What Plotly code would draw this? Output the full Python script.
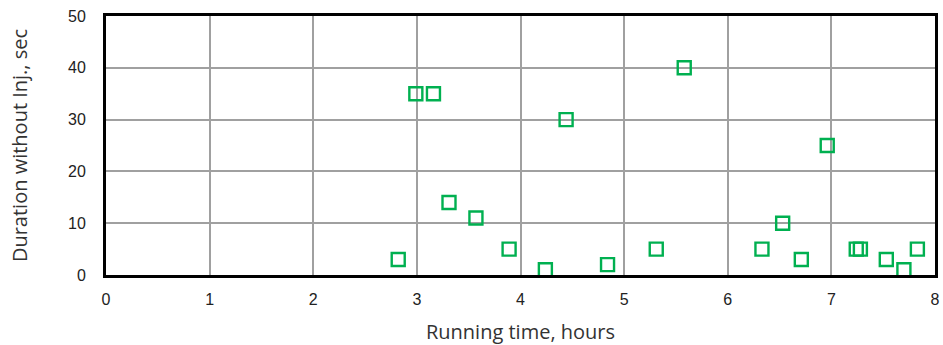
import plotly.graph_objects as go

# Running time (hours) and duration without injection (sec)
running_hours = [2.82, 2.99, 3.16, 3.31, 3.57, 3.89, 4.24, 4.44, 4.84, 5.31,
                 5.58, 6.33, 6.53, 6.71, 6.96, 7.24, 7.28, 7.53, 7.70, 7.83]
duration_sec = [3, 35, 35, 14, 11, 5, 1, 30, 2, 5,
                40, 5, 10, 3, 25, 5, 5, 3, 1, 5]

x_ticks = [0, 1, 2, 3, 4, 5, 6, 7, 8]
y_ticks = [0, 10, 20, 30, 40, 50]

fig = go.Figure(
    go.Scatter(
        x=running_hours,
        y=duration_sec,
        mode="markers",
        cliponaxis=False,
        marker=dict(symbol="square-open", size=13, color="#00b050",
                    line=dict(width=2.4, color="#00b050")),
        showlegend=False,
    )
)

axis_common = dict(
    showline=True, mirror=True, linecolor="black", linewidth=3,
    showgrid=True, gridcolor="#a0a0a0", gridwidth=1.5,
    zeroline=False, ticks="",
    tickfont=dict(family="Liberation Sans, Arial", size=16, color="#222"),
)

title_font = dict(family="Open Sans", size=20, color="#333")

fig.update_layout(
    width=943, height=345,
    margin=dict(l=106, r=3, t=16, b=70),
    paper_bgcolor="white", plot_bgcolor="white",
    xaxis=dict(range=[0, 8], tickvals=x_ticks,
               title=dict(text="Running time, hours", standoff=18, font=title_font),
               ticklabelstandoff=8, **axis_common),
    yaxis=dict(range=[0, 50], tickvals=y_ticks,
               title=dict(text="Duration without Inj., sec", standoff=36, font=title_font),
               ticklabelstandoff=14, **axis_common),
)

fig.write_html("out.html")
